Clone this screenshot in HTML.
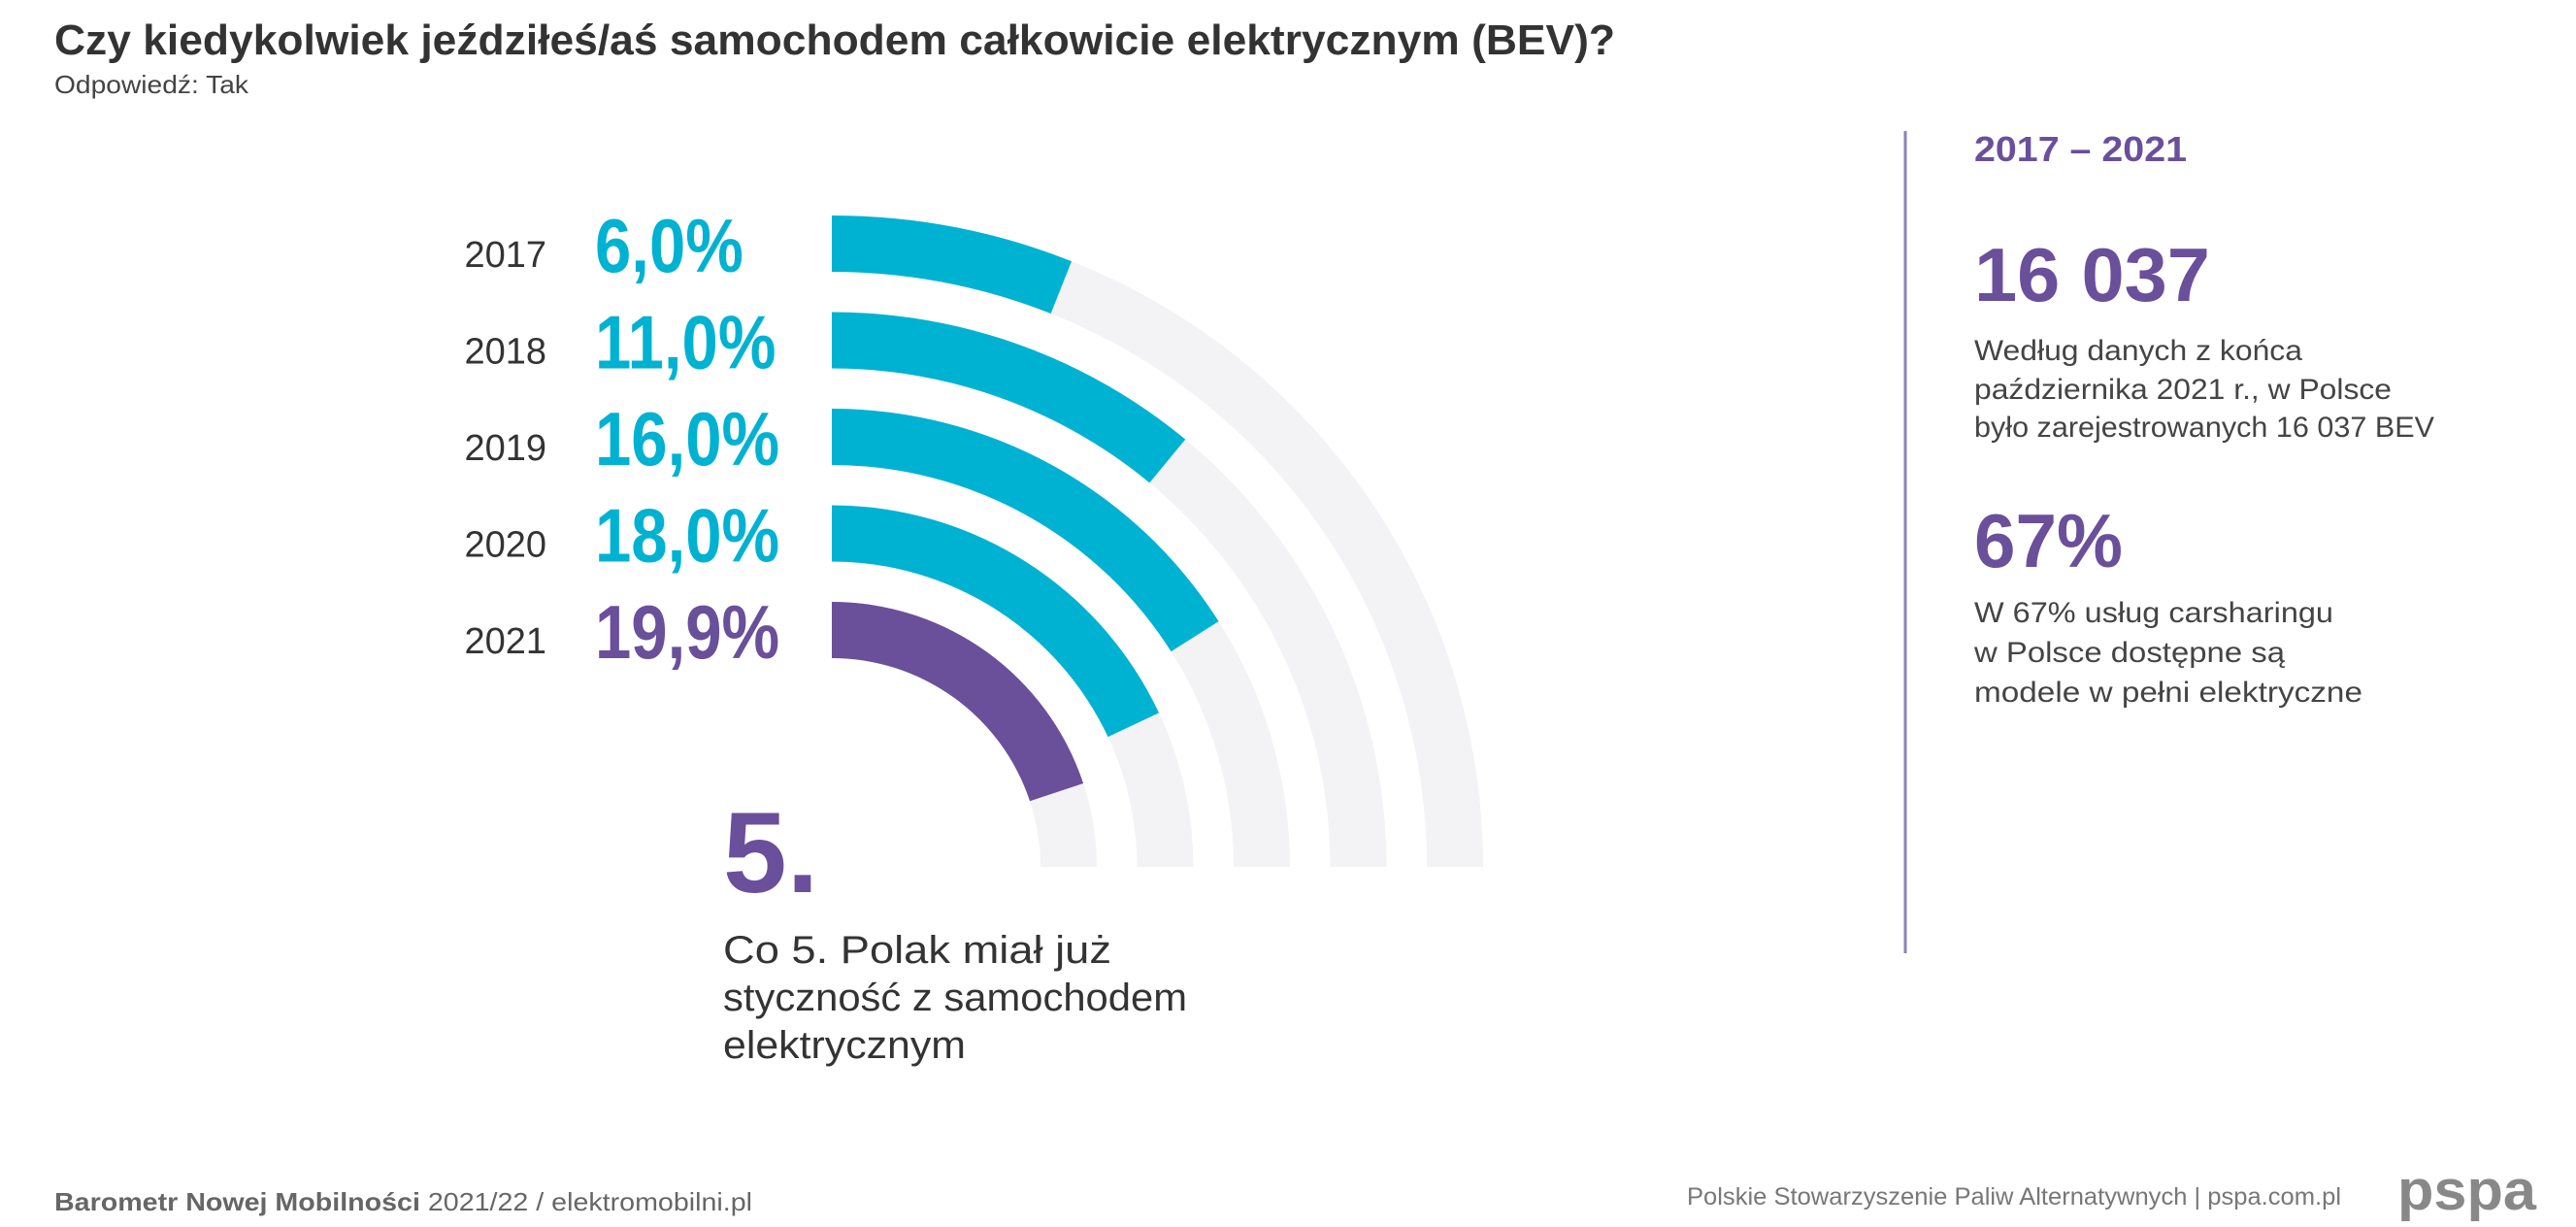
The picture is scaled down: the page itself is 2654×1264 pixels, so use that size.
<!DOCTYPE html>
<html><head><meta charset="utf-8"><style>
html,body{margin:0;padding:0;background:#fff;}
svg{display:block;font-family:"Liberation Sans",sans-serif;}
</style></head><body>
<svg id="chart" width="2654" height="1264" viewBox="0 0 2654 1264" xmlns="http://www.w3.org/2000/svg">
<rect width="2654" height="1264" fill="#fff"/>
<text x="56" y="56" font-size="44" font-weight="bold" fill="#333" textLength="1608" lengthAdjust="spacingAndGlyphs">Czy kiedykolwiek jeździłeś/aś samochodem całkowicie elektrycznym (BEV)?</text>
<text x="56" y="96" font-size="26" fill="#444" textLength="200" lengthAdjust="spacingAndGlyphs">Odpowiedź: Tak</text>
<g id="tracks"></g>
<g id="bars"></g>
<g id="labels"></g>
<text x="745" y="919" font-size="118" font-weight="bold" fill="#6a4f9a">5.</text>
<g font-size="40" fill="#333">
<text x="745" y="992" textLength="400" lengthAdjust="spacingAndGlyphs">Co 5. Polak miał już</text>
<text x="745" y="1041" textLength="478" lengthAdjust="spacingAndGlyphs">styczność z samochodem</text>
<text x="745" y="1090" textLength="250" lengthAdjust="spacingAndGlyphs">elektrycznym</text>
</g>
<line x1="1963" y1="135" x2="1963" y2="982" stroke="#8a82b4" stroke-width="3"/>
<text x="2034" y="166" font-size="36" font-weight="bold" fill="#6a4f9a" textLength="219" lengthAdjust="spacingAndGlyphs">2017 – 2021</text>
<text x="2034" y="310" font-size="78" font-weight="bold" fill="#6a4f9a" textLength="243" lengthAdjust="spacingAndGlyphs">16 037</text>
<g font-size="30" fill="#444">
<text x="2034" y="371" textLength="338" lengthAdjust="spacingAndGlyphs">Według danych z końca</text>
<text x="2034" y="411" textLength="430" lengthAdjust="spacingAndGlyphs">października 2021 r., w Polsce</text>
<text x="2034" y="450" textLength="474" lengthAdjust="spacingAndGlyphs">było zarejestrowanych 16 037 BEV</text>
</g>
<text x="2034" y="584" font-size="78" font-weight="bold" fill="#6a4f9a" textLength="153" lengthAdjust="spacingAndGlyphs">67%</text>
<g font-size="30" fill="#444">
<text x="2034" y="641" textLength="370" lengthAdjust="spacingAndGlyphs">W 67% usług carsharingu</text>
<text x="2034" y="682" textLength="320" lengthAdjust="spacingAndGlyphs">w Polsce dostępne są</text>
<text x="2034" y="723" textLength="400" lengthAdjust="spacingAndGlyphs">modele w pełni elektryczne</text>
</g>
<text x="56" y="1247" font-size="26" fill="#666" textLength="719" lengthAdjust="spacingAndGlyphs"><tspan font-weight="bold">Barometr Nowej Mobilności</tspan> 2021/22  /  elektromobilni.pl</text>
<text x="1738" y="1241" font-size="25" fill="#777" textLength="674" lengthAdjust="spacingAndGlyphs">Polskie Stowarzyszenie Paliw Alternatywnych  |  pspa.com.pl</text>
<text x="2470" y="1246" font-size="58" font-weight="bold" fill="#888" textLength="143" lengthAdjust="spacingAndGlyphs">pspa</text>
</svg>
<script>
const years = ["2017","2018","2019","2020","2021"];
const values = [6.0, 11.0, 16.0, 18.0, 19.9];
const valueLabels = ["6,0%","11,0%","16,0%","18,0%","19,9%"];
const NS = "http://www.w3.org/2000/svg";
const cx = 857, cy = 893, outer0 = 671, pitch = 99.5, thick = 58;
function angleOf(v){ return v / 100 * 2 * Math.PI; }
function arcPath(rOut, a){
  const rIn = rOut - thick;
  const x1 = cx + rOut*Math.sin(a), y1 = cy - rOut*Math.cos(a);
  const x2 = cx + rIn*Math.sin(a), y2 = cy - rIn*Math.cos(a);
  const large = a > Math.PI ? 1 : 0;
  return `M${cx},${cy-rOut} A${rOut},${rOut} 0 ${large} 1 ${x1},${y1} L${x2},${y2} A${rIn},${rIn} 0 ${large} 0 ${cx},${cy-rIn} Z`;
}
const tg = document.getElementById('tracks'), bg = document.getElementById('bars'), lg = document.getElementById('labels');
years.forEach((y,i)=>{
  const r = outer0 - i*pitch;
  const t = document.createElementNS(NS,'path');
  t.setAttribute('d', arcPath(r, Math.PI/2));
  t.setAttribute('fill', '#f3f3f6');
  
  
  tg.appendChild(t);
  const color = i === years.length-1 ? '#6a4f9a' : '#00b2d1';
  const b = document.createElementNS(NS,'path');
  b.setAttribute('d', arcPath(r, angleOf(values[i])));
  b.setAttribute('fill', color);
  
  
  bg.appendChild(b);
  const mid = cy - r + thick/2;
  const yt = document.createElementNS(NS,'text');
  yt.setAttribute('x', 563); yt.setAttribute('y', mid + 24);
  yt.setAttribute('text-anchor','end'); yt.setAttribute('font-size','38'); yt.setAttribute('fill','#333');
  yt.textContent = y;
  
  
  lg.appendChild(yt);
  const vt = document.createElementNS(NS,'text');
  vt.setAttribute('x', 613); vt.setAttribute('y', mid + 29);
  vt.setAttribute('font-size','78'); vt.setAttribute('font-weight','bold'); vt.setAttribute('fill', color);
  vt.textContent = valueLabels[i];
  
  
  lg.appendChild(vt);
  const w = vt.getComputedTextLength();
  vt.setAttribute('textLength', (w * 0.86).toFixed(1));
  vt.setAttribute('lengthAdjust', 'spacingAndGlyphs');
});
</script>
</body></html>
